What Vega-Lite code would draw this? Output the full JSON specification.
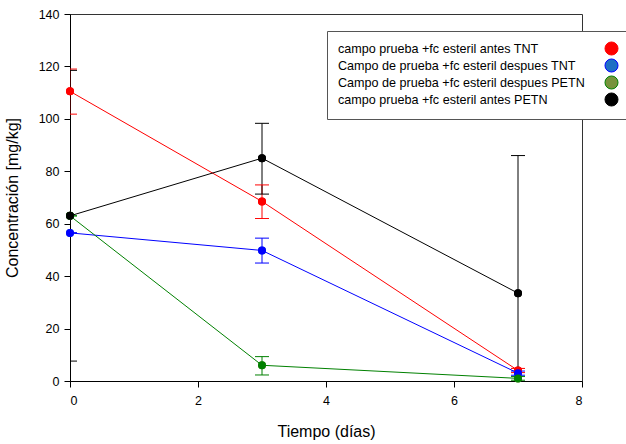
{
  "$schema": "https://vega.github.io/schema/vega-lite/v6.json",
  "width": 512,
  "height": 367,
  "autosize": {"type": "none"},
  "padding": {"left": 70, "top": 14, "right": 44, "bottom": 63},
  "background": "white",
  "config": {
    "view": {"stroke": "#333", "strokeWidth": 1},
    "font": "Liberation Sans",
    "axis": {"domainColor": "black", "tickColor": "black", "labelColor": "black", "titleColor": "black", "grid": false, "labelFontSize": 12.5, "titleFontSize": 16, "titleFontWeight": "normal", "tickSize": 6, "labelPadding": 5}
  },
  "data": {"values": [
    {"serie": "campo prueba +fc esteril antes TNT", "t": 0, "c": 110.5, "lo": 101.8, "hi": 119},
    {"serie": "campo prueba +fc esteril antes TNT", "t": 3, "c": 68.5, "lo": 62, "hi": 74.8},
    {"serie": "campo prueba +fc esteril antes TNT", "t": 7, "c": 4, "lo": 3.2, "hi": 4.8},
    {"serie": "Campo de prueba +fc esteril despues TNT", "t": 0, "c": 56.5, "lo": 56.5, "hi": 56.5},
    {"serie": "Campo de prueba +fc esteril despues TNT", "t": 3, "c": 49.8, "lo": 45, "hi": 54.5},
    {"serie": "Campo de prueba +fc esteril despues TNT", "t": 7, "c": 3, "lo": 2.2, "hi": 3.8},
    {"serie": "Campo de prueba +fc esteril despues PETN", "t": 0, "c": 63, "lo": 63, "hi": 63},
    {"serie": "Campo de prueba +fc esteril despues PETN", "t": 3, "c": 6, "lo": 2.3, "hi": 9.3},
    {"serie": "Campo de prueba +fc esteril despues PETN", "t": 7, "c": 1, "lo": 0.3, "hi": 1.7},
    {"serie": "campo prueba +fc esteril antes PETN", "t": 0, "c": 63, "lo": 7.6, "hi": 118.5},
    {"serie": "campo prueba +fc esteril antes PETN", "t": 3, "c": 85, "lo": 71.3, "hi": 98.3},
    {"serie": "campo prueba +fc esteril antes PETN", "t": 7, "c": 33.5, "lo": -19, "hi": 86}
  ]},
  "encoding": {
    "x": {"field": "t", "type": "quantitative", "scale": {"domain": [0, 8], "nice": false}, "axis": {"values": [0, 2, 4, 6, 8], "title": "Tiempo (días)", "titlePadding": 17, "labelPadding": 7}},
    "y": {"field": "c", "type": "quantitative", "scale": {"domain": [0, 140], "nice": false}, "axis": {"values": [0, 20, 40, 60, 80, 100, 120, 140], "title": "Concentración [mg/kg]", "titlePadding": 18}}
  },
  "layer": [
    {
      "mark": {"type": "point", "filled": true, "size": 64, "opacity": 1},
      "encoding": {
        "fill": {"field": "serie", "type": "nominal",
          "scale": {"domain": ["campo prueba +fc esteril antes TNT", "Campo de prueba +fc esteril despues TNT", "Campo de prueba +fc esteril despues PETN", "campo prueba +fc esteril antes PETN"], "range": ["#ff0000", "#1f6fc4", "#77933c", "#000000"]},
          "legend": {"orient": "none", "legendX": 257, "legendY": 17, "title": null, "labelAlign": "left", "symbolOffset": 267, "labelOffset": -281, "labelLimit": 400, "labelFontSize": 12.6, "labelColor": "black", "symbolSize": 170, "symbolStrokeColor": "black", "symbolStrokeWidth": 1, "symbolOpacity": 1, "rowPadding": -3, "strokeColor": "#555", "fillColor": "white", "padding": 10}
        }
      }
    },
    {
      "mark": {"type": "line", "strokeWidth": 1, "clip": true},
      "encoding": {
        "color": {"field": "serie", "type": "nominal", "legend": null,
          "scale": {"domain": ["campo prueba +fc esteril antes TNT", "Campo de prueba +fc esteril despues TNT", "Campo de prueba +fc esteril despues PETN", "campo prueba +fc esteril antes PETN"], "range": ["#ff0000", "#0000ff", "#008000", "#000000"]}}
      }
    },
    {
      "mark": {"type": "rule", "strokeWidth": 1, "clip": true},
      "encoding": {
        "y": {"field": "lo", "type": "quantitative"},
        "y2": {"field": "hi"},
        "color": {"field": "serie", "type": "nominal", "legend": null}
      }
    },
    {
      "mark": {"type": "tick", "orient": "horizontal", "size": 14, "thickness": 1, "clip": true, "opacity": 1},
      "encoding": {
        "y": {"field": "lo", "type": "quantitative"},
        "color": {"field": "serie", "type": "nominal", "legend": null}
      }
    },
    {
      "mark": {"type": "tick", "orient": "horizontal", "size": 14, "thickness": 1, "clip": true, "opacity": 1},
      "encoding": {
        "y": {"field": "hi", "type": "quantitative"},
        "color": {"field": "serie", "type": "nominal", "legend": null}
      }
    },
    {
      "mark": {"type": "point", "filled": true, "size": 64, "opacity": 1},
      "encoding": {
        "color": {"field": "serie", "type": "nominal", "legend": null}
      }
    }
  ]
}
